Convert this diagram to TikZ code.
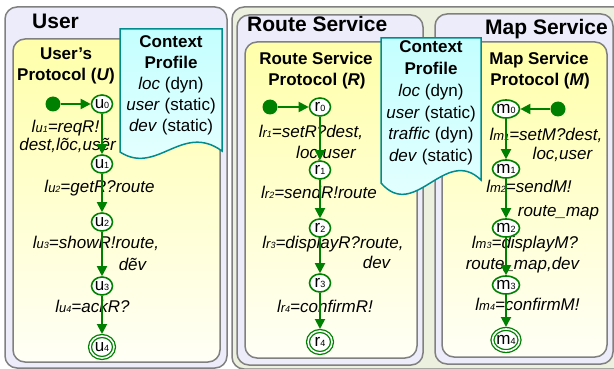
\documentclass[tikz,border=0pt]{standalone}
\usepackage{fontspec}
\setmainfont{Liberation Sans}
\usetikzlibrary{arrows.meta,shapes.geometric}
\definecolor{grn}{RGB}{0,128,0}
\definecolor{lav}{RGB}{236,236,250}
\definecolor{sage}{RGB}{236,240,222}
\definecolor{ylwtop}{RGB}{255,255,170}
\definecolor{ylwbot}{RGB}{255,255,246}
\definecolor{cyantop}{RGB}{196,255,255}
\definecolor{cyanbot}{RGB}{232,255,255}
\definecolor{tealb}{RGB}{0,140,140}
\definecolor{boxgray}{RGB}{128,128,128}
\newcommand\sz[1]{\fontsize{#1}{#1}\selectfont}
\newcommand\stl[2]{#1{\sz{9}#2}}
\newcommand\lbn[2]{l{\sz{13}#1}{\sz{9}#2}}
\begin{document}
\begin{tikzpicture}[x=1pt,y=-1pt,
  outerbox/.style={draw=boxgray, line width=1.5pt, rounded corners=12pt},
  ylwbox/.style={draw=boxgray, line width=1.5pt, rounded corners=12pt, top color=ylwtop, bottom color=ylwbot},
  callout/.style={draw=tealb, line width=1.5pt, top color=cyantop, bottom color=cyanbot},
  statenode/.style={ellipse, draw=grn, line width=1.6pt, fill=white, inner sep=0pt, minimum width=21pt, minimum height=18pt, font=\sz{17}},
  finalnode/.style={statenode, double=white, double distance=1.6pt, line width=1.3pt, minimum width=24pt, minimum height=22pt, outer sep=2pt},
  initdot/.style={circle, fill=grn, inner sep=0pt, minimum size=15pt},
  arr/.style={draw=grn, line width=1.9pt, -{Triangle[length=10pt,width=10pt]}},
  lbl/.style={font=\sz{17}\itshape, inner sep=0pt, anchor=base},
  ttl/.style={font=\sz{21}\bfseries, inner sep=0pt, anchor=base west},
  ptl/.style={font=\sz{17}\bfseries, inner sep=0pt, anchor=base},
  ctxu/.style={align=center, inner sep=0pt, font={\fontsize{17}{21}\selectfont}},
  ctxr/.style={align=center, inner sep=0pt, font={\fontsize{17}{21.8}\selectfont}}
]
\useasboundingbox (0,0) rectangle (614,369);
\clip (0,0) rectangle (614,369);

% outer boxes
\draw[outerbox, fill=lav] (5,7) rectangle (227,368);
\draw[outerbox, fill=sage] (232,7) rectangle (640,369);
\draw[outerbox, fill=lav] (237,15) rectangle (423,365);
\draw[outerbox, fill=lav] (435,14) rectangle (613,364);

% inner yellow boxes
\draw[ylwbox] (13,39) rectangle (220,362);
\draw[ylwbox] (245,42) rectangle (417,358);
\draw[ylwbox] (442,42) rectangle (607,357);

% titles
\node[ttl] (tu) at (32,28.5) {User};
\node[ttl] (tr) at (247,32) {Route Service};
\node[ttl] (tm) at (485,35) {Map Service};

\node[ptl] (pu1) at (66,60) {User’s};
\node[ptl] (pu2) at (66,81) {Protocol (\textit{U})};
\node[ptl] (pr1) at (316,65) {Route Service};
\node[ptl] (pr2) at (317,85) {Protocol (\textit{R})};
\node[ptl] (pm1) at (539,65) {Map Service};
\node[ptl] (pm2) at (540,85) {Protocol (\textit{M})};

% context callouts
\draw[callout] (120,152) -- (120,29) -- (222,29) -- (222,151)
  .. controls (182,122) and (157,176) .. (120,152) -- cycle;
\node[ctxu] (cu) at (171,85) {\textbf{Context}\\ \textbf{Profile}\\ \textit{loc} (dyn)\\ \textit{user} (static)\\ \textit{dev} (static)};

\draw[callout] (381,183) -- (381,38) -- (481,38) -- (481,180)
  .. controls (445,145) and (415,222) .. (381,183) -- cycle;
\node[ctxr] (cr) at (431,103) {\textbf{Context}\\ \textbf{Profile}\\ \textit{loc} (dyn)\\ \textit{user} (static)\\ \textit{traffic} (dyn)\\ \textit{dev} (static)};

% transition labels: user
\node[lbl] (lu1) at (65.5,132) {\lbn{u}{1}=reqR!};
\node[lbl] (lu1b) at (67.5,150) {dest,lõc,usẽr};
\node[lbl] (lu2) at (99.5,192) {\lbn{u}{2}=getR?route};
\node[lbl] (lu3) at (96,248) {\lbn{u}{3}=showR!route,};
\node[lbl] (lu3b) at (132.5,270) {dẽv};
\node[lbl] (lu4) at (92.5,312) {\lbn{u}{4}=ackR?};

% transition labels: route
\node[lbl] (lr1) at (311,138) {\lbn{r}{1}=setR?dest,};
\node[lbl] (lr1b) at (326,158) {loc,user};
\node[lbl] (lr2) at (319,198) {\lbn{r}{2}=sendR!route};
\node[lbl] (lr3) at (333,248) {\lbn{r}{3}=displayR?route,};
\node[lbl] (lr3b) at (376.5,268) {dev};
\node[lbl] (lr4) at (325,312) {\lbn{r}{4}=confirmR!};

% transition labels: map
\node[lbl] (lm1) at (546,140) {\lbn{m}{1}=setM?dest,};
\node[lbl] (lm1b) at (562.5,160) {loc,user};
\node[lbl] (lm2) at (529,193) {\lbn{m}{2}=sendM!};
\node[lbl] (lm2b) at (558.5,216) {route\_map};
\node[lbl] (lm3) at (525,248) {\lbn{m}{3}=displayM?};
\node[lbl] (lm3b) at (522.5,269) {route\_map,dev};
\node[lbl] (lm4) at (527.5,310) {\lbn{m}{4}=confirmM!};

% states: user
\node[initdot] (du) at (53,104) {};
\node[statenode] (u0) at (102,104) {\stl{u}{0}};
\node[statenode] (u1) at (102,164) {\stl{u}{1}};
\node[statenode] (u2) at (102,222) {\stl{u}{2}};
\node[statenode] (u3) at (102,286) {\stl{u}{3}};
\node[finalnode] (u4) at (102,347) {\stl{u}{4}};

% states: route
\node[initdot] (dr) at (270,107) {};
\node[statenode] (r0) at (320,107) {\stl{r}{0}};
\node[statenode] (r1) at (320,170) {\stl{r}{1}};
\node[statenode] (r2) at (320,228) {\stl{r}{2}};
\node[statenode] (r3) at (320,283) {\stl{r}{3}};
\node[finalnode] (r4) at (320,342) {\stl{r}{4}};

% states: map
\node[initdot] (dm) at (558,109) {};
\node[statenode] (m0) at (506,109) {\stl{m}{0}};
\node[statenode] (m1) at (506,169) {\stl{m}{1}};
\node[statenode] (m2) at (506,228) {\stl{m}{2}};
\node[statenode] (m3) at (506,285) {\stl{m}{3}};
\node[finalnode] (m4) at (506,340) {\stl{m}{4}};

% transitions
\draw[arr] (du) -- (u0);
\draw[arr] (u0) -- (u1);
\draw[arr] (u1) -- (u2);
\draw[arr] (u2) -- (u3);
\draw[arr] (u3) -- (u4);

\draw[arr] (dr) -- (r0);
\draw[arr] (r0) -- (r1);
\draw[arr] (r1) -- (r2);
\draw[arr] (r2) -- (r3);
\draw[arr] (r3) -- (r4);

\draw[arr] (dm) -- (m0);
\draw[arr] (m0) -- (m1);
\draw[arr] (m1) -- (m2);
\draw[arr] (m2) -- (m3);
\draw[arr] (m3) -- (m4);
\end{tikzpicture}
\end{document}
